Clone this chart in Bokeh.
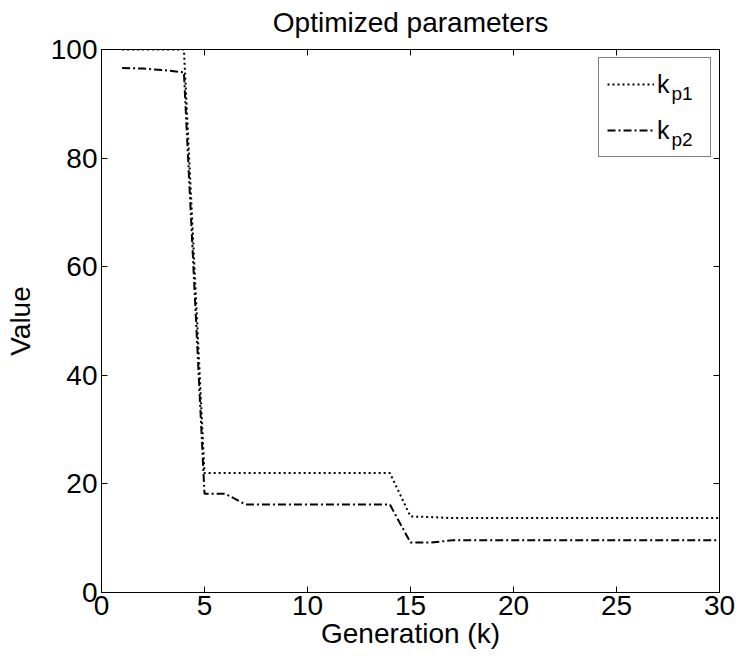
from bokeh.plotting import figure
from bokeh.models import (LinearAxis, FixedTicker, Legend, LegendItem, Label,
                          Range1d)
from bokeh.embed import file_html
from bokeh.resources import INLINE

# ---- data ----
generation = list(range(1, 31))
kp1 = [100, 100, 100, 100] + [22.0] * 10 + [14.0, 13.9] + [13.7] * 14
kp2 = [96.6, 96.5, 96.2, 95.8, 18.2, 18.2] + [16.2] * 8 + [9.2, 9.2] + [9.6] * 14
x_ticks = [0, 5, 10, 15, 20, 25, 30]
y_ticks = [0, 20, 40, 60, 80, 100]
series_names = ["k", "k"]
series_subs = ["p1", "p2"]
title_text = "Optimized parameters"

FONT = "Liberation Sans"
FS = "28px"
FW, FH = 618, 543
X0, X1, Y0, Y1 = 0, 30, 0, 100

p = figure(frame_width=FW, frame_height=FH,
           min_border_left=101, min_border_right=20,
           min_border_top=49, min_border_bottom=71,
           x_range=Range1d(X0, X1), y_range=Range1d(Y0, Y1),
           output_backend="svg", toolbar_location=None)
p.background_fill_color = "white"
p.border_fill_color = "white"
p.outline_line_color = "black"
p.outline_line_width = 1
p.xgrid.visible = False
p.ygrid.visible = False

for ax in (p.xaxis[0], p.yaxis[0]):
    ax.major_label_text_font = FONT
    ax.major_label_text_font_size = FS
    ax.major_label_text_color = "black"
    ax.axis_label_text_font = FONT
    ax.axis_label_text_font_size = FS
    ax.axis_label_text_font_style = "normal"
    ax.axis_label_text_color = "black"
    ax.major_tick_in = 6
    ax.major_tick_out = 0
    ax.minor_tick_line_color = None
    ax.axis_line_color = "black"
    ax.major_tick_line_color = "black"

p.xaxis[0].ticker = FixedTicker(ticks=x_ticks)
p.yaxis[0].ticker = FixedTicker(ticks=y_ticks)
p.xaxis[0].axis_label = "Generation (k)"
p.yaxis[0].axis_label = "Value"
p.xaxis[0].major_label_standoff = 3
p.yaxis[0].major_label_standoff = 4
p.yaxis[0].axis_label_standoff = 12
p.xaxis[0].axis_label_standoff = 0

# mirrored ticks on top (carrying the chart title) and right
top_ax = LinearAxis(ticker=FixedTicker(ticks=x_ticks), major_tick_in=6,
                    major_tick_out=0, minor_tick_line_color=None,
                    major_label_text_font_size="1px",
                    major_label_text_color=None, major_label_standoff=0,
                    axis_line_color="black",
                    axis_label=title_text, axis_label_standoff=12,
                    axis_label_text_font=FONT, axis_label_text_font_size=FS,
                    axis_label_text_font_style="normal",
                    axis_label_text_color="black")
right_ax = LinearAxis(ticker=FixedTicker(ticks=y_ticks), major_tick_in=6,
                      major_tick_out=0, minor_tick_line_color=None,
                      major_label_text_font_size="1px",
                      major_label_text_color=None, major_label_standoff=0,
                      axis_line_color="black")
p.add_layout(top_ax, "above")
p.add_layout(right_ax, "right")

r1 = p.line(generation, kp1, line_color="black", line_width=2, line_dash="2 3")
r2 = p.line(generation, kp2, line_color="black", line_width=2, line_dash="8 3 2 3")

legend = Legend(items=[LegendItem(label=series_names[0], renderers=[r1]),
                       LegendItem(label=series_names[1], renderers=[r2])],
                location="top_right", margin=8, padding=8, spacing=10,
                glyph_width=47, glyph_height=36, label_height=36,
                label_width=45, label_standoff=3,
                label_text_font=FONT, label_text_font_size="25px",
                label_text_color="black",
                border_line_color="black", border_line_width=1,
                background_fill_color="white", background_fill_alpha=0)
p.add_layout(legend)


# subscripts of the legend labels, placed by frame pixel offsets
def px_to_x(px):
    return X0 + (X1 - X0) * px / FW


def px_from_top_to_y(py):
    return Y1 - (Y1 - Y0) * py / FH


for i, sub in enumerate(series_subs):
    p.add_layout(Label(x=px_to_x(570), y=px_from_top_to_y(44 + i * 46),
                       text=sub, text_font=FONT,
                       text_font_size="19px", text_baseline="middle",
                       text_align="left",
                       text_color="black"))

open("out.html", "w").write(file_html(p, INLINE))
